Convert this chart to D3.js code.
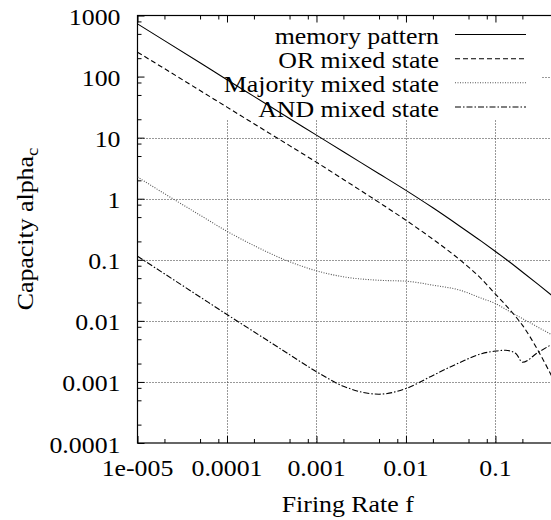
<!DOCTYPE html>
<html><head><meta charset="utf-8">
<script src="https://cdn.jsdelivr.net/npm/d3@7"></script>
<style>
body{margin:0;background:#fff;}
</style></head>
<body><svg id="chart" width="551" height="520"></svg>
<script>
// ---- data ----
const firingRates = [1e-5, 2e-5, 5e-5, 1e-4, 2e-4, 5e-4, 1e-3, 2e-3, 5e-3, 0.01, 0.02, 0.04, 0.07, 0.1, 0.13, 0.17, 0.2, 0.3, 0.5];
const memoryPattern = [730, 388, 168, 89, 47.4, 20.6, 11, 5.86, 2.57, 1.37, 0.71, 0.355, 0.2, 0.137, 0.103, 0.0762, 0.0632, 0.0395, 0.0216];
const orMixed = [251, 135, 59, 31.6, 16.9, 7.4, 3.95, 2.07, 0.87, 0.444, 0.217, 0.1, 0.0483, 0.0273, 0.01815, 0.01153, 0.00851, 0.00324, 0.00078];
const majorityMixed = [2.27, 1.21, 0.538, 0.293, 0.171, 0.093, 0.066, 0.0526, 0.0462, 0.0446, 0.0384, 0.0318, 0.0234, 0.0192, 0.0155, 0.0124, 0.0109, 0.00785, 0.0052];
const andMixed = [0.114, 0.059, 0.0246, 0.0127, 0.00663, 0.0028, 0.00147, 0.00085, 0.00063, 0.00078, 0.00128, 0.00208, 0.0029, 0.0032, 0.0033, 0.0029, 0.0021, 0.00305, 0.0047];
const seriesNames = ["memory pattern", "OR mixed state", "Majority mixed state", "AND mixed state"];
const xTickValues = [1e-5, 1e-4, 1e-3, 1e-2, 1e-1];
const xTickLabels = ["1e-005", "0.0001", "0.001", "0.01", "0.1"];
const yTickValues = [1e-4, 1e-3, 1e-2, 1e-1, 1, 10, 100, 1000];
const yTickLabels = ["0.0001", "0.001", "0.01", "0.1", "1", "10", "100", "1000"];
const xTitle = "Firing Rate f";
const yTitle = "Capacity alpha";
const yTitleSub = "c";

// ---- layout ----
const FONT = '"Liberation Serif"';
const FS = 23.5, SX = 1.1;
const pLeft = 137.5, pRight = 558, pTop = 15.5, pBottom = 443;
const svg = d3.select("#chart");
const x = d3.scaleLog().domain([1e-5, 0.5]).range([pLeft, pRight]);
const y = d3.scaleLog().domain([1e-4, 1000]).range([pBottom, pTop]);

function minorTicks(major, lo, hi) {
  const out = [];
  major.forEach(m => [2, 5, 8].forEach(k => { const v = m * k; if (v > lo && v < hi) out.push(v); }));
  return out;
}
const xMinor = minorTicks([1e-5, 1e-4, 1e-3, 1e-2, 1e-1], 1e-5, 0.5);
const yMinor = minorTicks([1e-4, 1e-3, 1e-2, 1e-1, 1, 10, 100], 1e-4, 1000);

// clip
svg.append("defs").append("clipPath").attr("id", "clip")
  .append("rect").attr("x", pLeft).attr("y", pTop).attr("width", pRight - pLeft).attr("height", pBottom - pTop);

// grid
const grid = svg.append("g").attr("stroke", "#333").attr("stroke-width", 1).attr("stroke-dasharray", "1,2");
xTickValues.filter(v => v > 1e-5).forEach(v => {
  grid.append("line").attr("x1", Math.round(x(v)) + 0.5).attr("x2", Math.round(x(v)) + 0.5).attr("y1", pTop).attr("y2", pBottom);
});
yTickValues.filter(v => v > 1e-4 && v < 1000).forEach(v => {
  grid.append("line").attr("y1", Math.round(y(v)) + 0.5).attr("y2", Math.round(y(v)) + 0.5).attr("x1", pLeft).attr("x2", pRight);
});

// key background (hides grid behind key)
svg.append("rect").attr("x", pLeft + 1.5).attr("y", pTop + 1).attr("width", 541 - pLeft - 1.5).attr("height", 119 - pTop - 1).attr("fill", "#fff");

// axes (ticks inward)
function tickAxis(axis, transform) {
  const g = svg.append("g").attr("transform", transform).call(axis);
  g.select(".domain").remove();
  g.selectAll("text").remove();
  g.selectAll("line").attr("stroke", "#000");
  return g;
}
tickAxis(d3.axisBottom(x).tickValues(xTickValues).tickSize(-7).tickSizeOuter(0), `translate(0,${pBottom})`);
tickAxis(d3.axisBottom(x).tickValues(xMinor).tickSize(-4).tickSizeOuter(0), `translate(0,${pBottom})`);
tickAxis(d3.axisTop(x).tickValues(xTickValues).tickSize(-7).tickSizeOuter(0), `translate(0,${pTop})`);
tickAxis(d3.axisTop(x).tickValues(xMinor).tickSize(-4).tickSizeOuter(0), `translate(0,${pTop})`);
tickAxis(d3.axisLeft(y).tickValues(yTickValues).tickSize(-7).tickSizeOuter(0), `translate(${pLeft},0)`);
tickAxis(d3.axisLeft(y).tickValues(yMinor).tickSize(-4).tickSizeOuter(0), `translate(${pLeft},0)`);

// frame
svg.append("rect").attr("x", pLeft).attr("y", pTop).attr("width", pRight - pLeft).attr("height", pBottom - pTop)
  .attr("fill", "none").attr("stroke", "#000").attr("stroke-width", 1.2);

// text helper
function label(x0, y0, txt, anchor) {
  return svg.append("text").attr("transform", `translate(${x0},${y0}) scale(${SX},1)`)
    .attr("text-anchor", anchor).attr("font-size", FS).style("font-family", FONT).attr("fill", "#000").text(txt);
}
xTickValues.forEach((v, i) => label(x(v), 476, xTickLabels[i], "middle"));
yTickValues.forEach((v, i) => label(120.5, y(v) + 9.5, yTickLabels[i], "end"));
label((pLeft + pRight) / 2, 512, xTitle, "middle");
const yt = svg.append("text").attr("transform", `translate(33,229) rotate(-90) scale(${SX},1)`)
  .attr("text-anchor", "middle").attr("font-size", FS).style("font-family", FONT).attr("fill", "#000").text(yTitle);
yt.append("tspan").attr("font-size", 17).attr("dy", 5).text(yTitleSub);

// curves
const styles = [
  {data: memoryPattern, dash: null, color: "#000", w: 1.1},
  {data: orMixed, dash: "5,3", color: "#000", w: 1.1},
  {data: majorityMixed, dash: "1,1.5", color: "#555", w: 1.1},
  {data: andMixed, dash: "6,2,1.5,2", color: "#000", w: 1.1}
];
const line = d3.line().x(d => x(d[0])).y(d => y(d[1])).curve(d3.curveMonotoneX);
const curves = svg.append("g").attr("clip-path", "url(#clip)");
styles.forEach(s => {
  curves.append("path").datum(firingRates.map((f, i) => [f, s.data[i]]))
    .attr("d", line).attr("fill", "none").attr("stroke", s.color).attr("stroke-width", s.w)
    .attr("stroke-dasharray", s.dash);
});

// legend
const rowY = [34.5, 58.7, 82.8, 107];
styles.forEach((s, i) => {
  svg.append("line").attr("x1", 455).attr("x2", 526).attr("y1", rowY[i]).attr("y2", rowY[i])
    .attr("stroke", s.color).attr("stroke-width", s.w).attr("stroke-dasharray", s.dash);
  label(439, rowY[i] + 9.5, seriesNames[i], "end");
});
</script></body></html>
